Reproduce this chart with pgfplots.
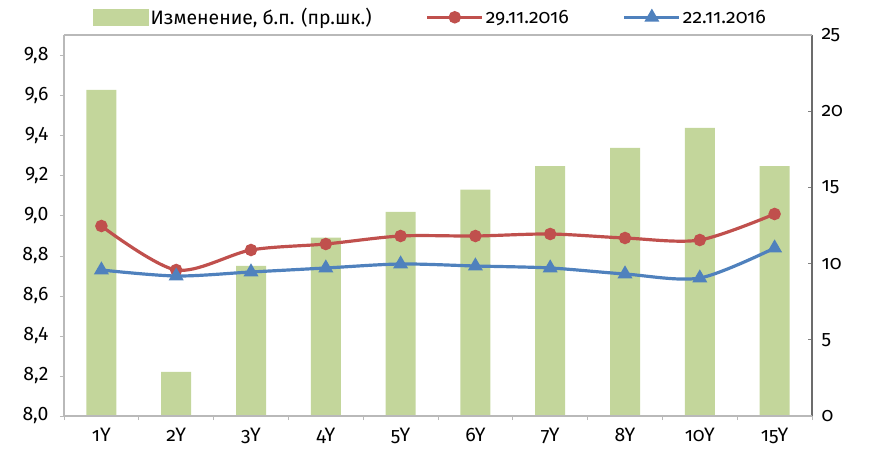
\documentclass[border=0pt]{standalone}
\usepackage{pgfplots}
\pgfplotsset{compat=1.18}
\usepackage{fontspec}
\setmainfont[Numbers=OldStyle]{Fira Sans}
\newfontfamily\lining[Numbers=Lining]{Fira Sans}
\definecolor{barcol}{RGB}{195,214,155}
\definecolor{redl}{RGB}{192,80,77}
\definecolor{bluel}{RGB}{79,129,189}
\definecolor{axgray}{RGB}{185,185,185}
\pgfplotstableread{
x bar red blue
0 21.4 8.95 8.73
1 2.9 8.73 8.70
2 9.85 8.83 8.72
3 11.7 8.86 8.74
4 13.4 8.90 8.76
5 14.85 8.90 8.75
6 16.4 8.91 8.74
7 17.6 8.89 8.71
8 18.9 8.88 8.69
9 16.4 9.01 8.84
}\data
\begin{document}
\begin{tikzpicture}
\useasboundingbox (-64bp,-41bp) rectangle (806bp,416bp);
\pgfplotsset{
  common/.style={
    scale only axis, width=748bp, height=381bp,
    at={(0,0)}, anchor=south west,
    xmin=-0.5, xmax=9.5,
    tick label style={font=\fontsize{19.5}{21}\selectfont},
    /pgf/number format/assume math mode=true,
  }
}
\begin{axis}[common,
  axis y line*=right, axis x line=none,
  ymin=0, ymax=25, ytick={0,5,...,25},
  y axis line style={draw=gray!85!black, line width=1.5pt},
  ytick style={draw=gray, line width=1pt}, major tick length=4bp,
  yticklabel style={xshift=6bp},
  xtick=\empty,
]
\addplot[ybar, bar width=30bp, fill=barcol, draw=none] table[x=x,y=bar]{\data};
\end{axis}
\begin{axis}[common,
  axis y line*=left, axis x line*=bottom,
  ymin=8.0, ymax=9.905, ytick={8.0,8.2,...,9.81},
  y axis line style={draw=axgray, line width=1.5pt},
  x axis line style={draw=axgray, line width=1.5pt},
  tick style={draw=axgray, line width=1pt}, major tick length=4bp,
  ytick pos=left, xtick pos=bottom, tick align=outside,
  /pgf/number format/fixed, /pgf/number format/fixed zerofill,
  /pgf/number format/precision=1, /pgf/number format/use comma,
  yticklabel style={xshift=-8bp, font=\fontsize{19.5}{21}\selectfont\lining},
  xtick={-0.5,0.5,...,9.5}, xticklabels={},
  extra x ticks={0,...,9}, extra x tick labels={1Y,2Y,3Y,4Y,5Y,6Y,7Y,8Y,10Y,15Y},
  extra x tick style={major tick length=0pt, tick label style={yshift=-9bp}},
  legend style={draw=none, at={(0.49,1.012)}, anchor=south, font=\fontsize{19.5}{21}\selectfont,
    /tikz/every even column/.append style={column sep=52bp}},
  legend columns=3,
  legend image code/.code={\draw[#1] (0bp,0bp) -- (55bp,0bp); \draw[#1,only marks] plot coordinates {(27.5bp,0bp)};},
]
\draw[axgray, line width=1.5pt] (rel axis cs:0,1) -- (rel axis cs:1,1);
\addlegendimage{legend image code/.code={\fill[barcol] (0bp,-8bp) rectangle (55bp,8bp);}}
\addlegendentry{Изменение, б.п. (пр.шк.)}
\addplot[redl, line width=3.2pt, smooth, tension=0.5, mark=*, mark size=4.6bp] table[x=x,y=red]{\data};
\addlegendentry{29.11.2016}
\addplot[bluel, line width=3.2pt, smooth, tension=0.5, mark=triangle*, mark size=5.5bp] table[x=x,y=blue]{\data};
\addlegendentry{22.11.2016}
\end{axis}
\end{tikzpicture}
\end{document}
